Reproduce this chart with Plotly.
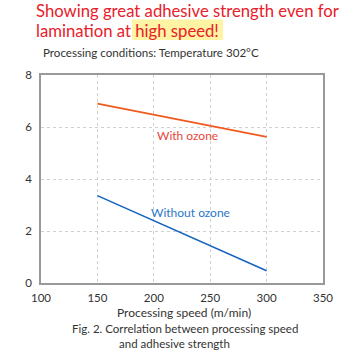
import plotly.graph_objects as go

speeds = [150, 300]
with_ozone = [6.9, 5.62]
without_ozone = [3.36, 0.47]
x_ticks = [100, 150, 200, 250, 300, 350]
y_ticks = [0, 2, 4, 6, 8]

W, H = 360, 350
L, R, T, B = 41, 323, 75, 283
FONT = "Lato"

def px(x):
    return (x - L) / (R - L)

def py(y):
    return (B - y) / (B - T)

fig = go.Figure()
fig.add_trace(go.Scatter(x=speeds, y=with_ozone, mode="lines",
                         line=dict(color="#f05a1e", width=1.6), hoverinfo="skip"))
fig.add_trace(go.Scatter(x=speeds, y=without_ozone, mode="lines",
                         line=dict(color="#1565c0", width=1.6), hoverinfo="skip"))

ann = []
ann.append(dict(x=px(34), y=py(11), xref="paper", yref="paper", xanchor="left", yanchor="middle",
                text="Showing great adhesive strength even for", showarrow=False,
                font=dict(family=FONT, size=16.7, color="#e8202a")))
ann.append(dict(x=px(34), y=py(31), xref="paper", yref="paper", xanchor="left", yanchor="middle",
                text="lamination at high speed!", showarrow=False,
                font=dict(family=FONT, size=16.7, color="#e8202a")))
ann.append(dict(x=px(41), y=py(53), xref="paper", yref="paper", xanchor="left", yanchor="middle",
                text="Processing conditions: Temperature 302°C", showarrow=False,
                font=dict(family=FONT, size=11.6, color="#333333")))
ann.append(dict(x=px(187), y=py(135), xref="paper", yref="paper", xanchor="center", yanchor="middle",
                text="With ozone", showarrow=False,
                font=dict(family=FONT, size=12, color="#e8463c")))
ann.append(dict(x=px(190.5), y=py(212), xref="paper", yref="paper", xanchor="center", yanchor="middle",
                text="Without ozone", showarrow=False,
                font=dict(family=FONT, size=12, color="#2a78c8")))
ann.append(dict(x=px(184), y=py(312), xref="paper", yref="paper", xanchor="center", yanchor="middle",
                text="Processing speed (m/min)", showarrow=False,
                font=dict(family=FONT, size=12, color="#333333")))
ann.append(dict(x=px(70), y=py(336), xref="paper", yref="paper", xanchor="left", yanchor="middle",
                align="left",
                text="Fig. 2. Correlation between processing speed<br>" + "&nbsp;" * 16 + "and adhesive strength",
                showarrow=False,
                font=dict(family=FONT, size=11.5, color="#333333")))

shapes = [dict(type="rect", xref="paper", yref="paper", layer="below",
               x0=px(132), x1=px(223), y0=py(40), y1=py(19.5),
               fillcolor="#fff4a3", line=dict(width=0))]

fig.update_layout(
    width=W, height=H,
    margin=dict(l=L, r=W - R, t=T, b=H - B, pad=0),
    paper_bgcolor="white", plot_bgcolor="white",
    showlegend=False,
    annotations=ann,
    shapes=shapes,
    xaxis=dict(range=[100, 350], tickvals=x_ticks, showgrid=True,
               gridcolor="#d0d0d0", griddash="dot", gridwidth=1,
               showline=True, linecolor="#999999", linewidth=1.5, mirror=True,
               zeroline=False, ticks="", ticklen=0, ticklabelstandoff=3,
               tickfont=dict(family=FONT, size=11.5, color="#333333")),
    yaxis=dict(range=[0, 8], tickvals=y_ticks, showgrid=True,
               gridcolor="#d0d0d0", griddash="dot", gridwidth=1,
               showline=True, linecolor="#999999", linewidth=1.5, mirror=True,
               zeroline=False, ticks="", ticklen=0, ticklabelstandoff=5,
               tickfont=dict(family=FONT, size=11.5, color="#333333")),
)

fig.write_html("out.html")
